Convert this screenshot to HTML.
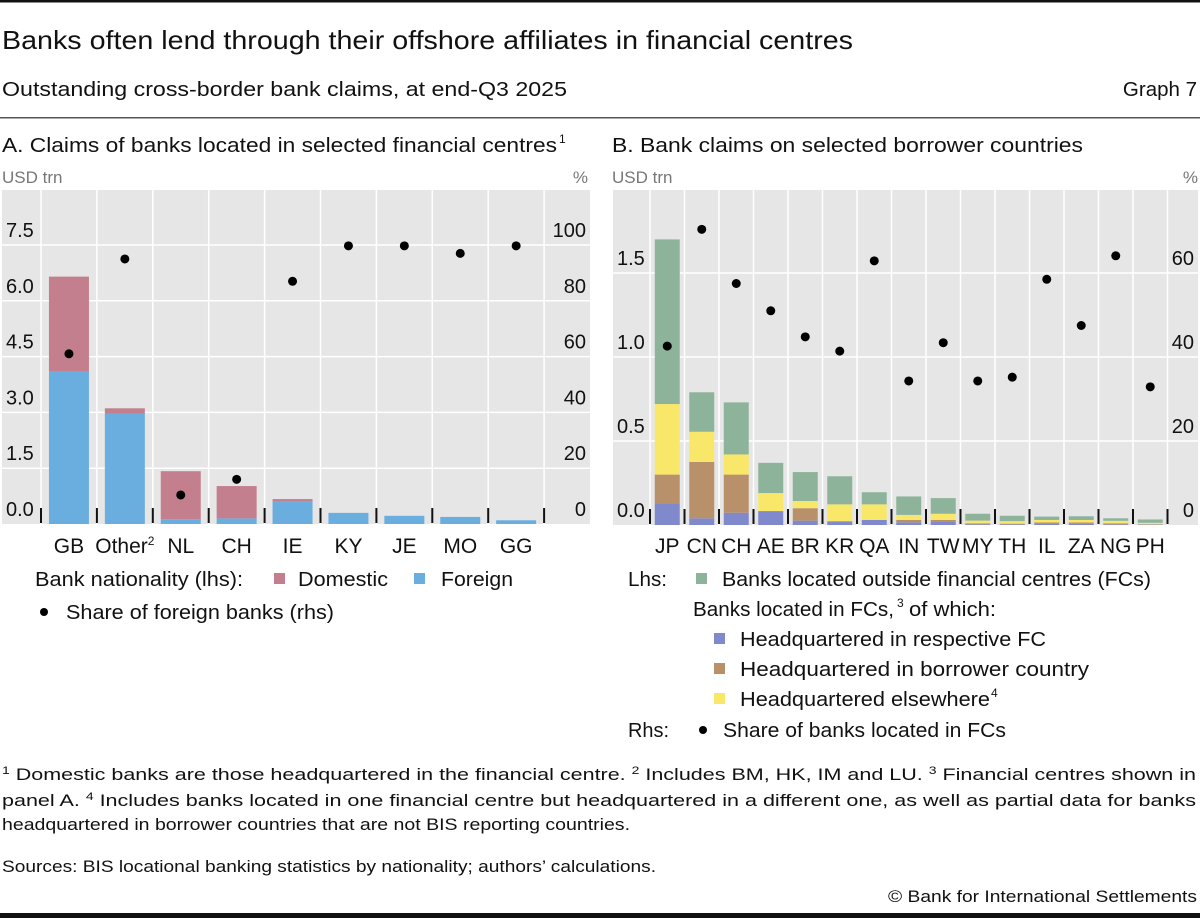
<!DOCTYPE html>
<html><head><meta charset="utf-8"><style>
html,body{margin:0;padding:0;background:#fff}
svg{display:block;font-family:"Liberation Sans",sans-serif}
</style></head><body>
<svg id="root" width="1200" height="918" viewBox="0 0 1200 918">
<rect x="0" y="0" width="1200" height="2.5" fill="#111"/>
<text x="2" y="49" font-size="26" fill="#111" textLength="851" lengthAdjust="spacingAndGlyphs">Banks often lend through their offshore affiliates in financial centres</text>
<text x="2" y="96" font-size="20.5" fill="#111" textLength="565" lengthAdjust="spacingAndGlyphs">Outstanding cross-border bank claims, at end-Q3 2025</text>
<text x="1197" y="96" font-size="20.5" fill="#111" text-anchor="end">Graph 7</text>
<rect x="0" y="117" width="1200" height="1.5" fill="#555"/>
<text x="2" y="152" font-size="20.5" fill="#111" textLength="555" lengthAdjust="spacingAndGlyphs">A. Claims of banks located in selected financial centres</text>
<text x="559" y="143" font-size="12" fill="#111">1</text>
<text x="612" y="152" font-size="20.5" fill="#111" textLength="471" lengthAdjust="spacingAndGlyphs">B. Bank claims on selected borrower countries</text>
<text x="2" y="183" font-size="17" fill="#777">USD trn</text>
<text x="588" y="183" font-size="17" fill="#777" text-anchor="end">%</text>
<text x="612" y="183" font-size="17" fill="#777">USD trn</text>
<text x="1198" y="183" font-size="17" fill="#777" text-anchor="end">%</text>
<g id="panelA"></g>
<g id="panelB"></g>

<g font-size="20" fill="#111">
<text x="35" y="586" textLength="208" lengthAdjust="spacingAndGlyphs">Bank nationality (lhs):</text>
<rect x="274" y="573" width="11" height="11" fill="#c47f8e"/>
<text x="298" y="586" textLength="90" lengthAdjust="spacingAndGlyphs">Domestic</text>
<rect x="414" y="573" width="11" height="11" fill="#6aaee0"/>
<text x="441" y="586" textLength="72" lengthAdjust="spacingAndGlyphs">Foreign</text>
<circle cx="44" cy="612" r="4" fill="#000"/>
<text x="66" y="619" textLength="268" lengthAdjust="spacingAndGlyphs">Share of foreign banks (rhs)</text>
</g>
<g font-size="20" fill="#111">
<text x="628" y="586" textLength="39" lengthAdjust="spacingAndGlyphs">Lhs:</text>
<rect x="696" y="573" width="11" height="11" fill="#8db39b"/>
<text x="722" y="586" textLength="429" lengthAdjust="spacingAndGlyphs">Banks located outside financial centres (FCs)</text>
<text x="693" y="616" textLength="201" lengthAdjust="spacingAndGlyphs">Banks located in FCs,</text>
<text x="897" y="607" font-size="12">3</text>
<text x="909" y="616" textLength="87" lengthAdjust="spacingAndGlyphs">of which:</text>
<rect x="714" y="633" width="11" height="11" fill="#8089cc"/>
<text x="740" y="646" textLength="306" lengthAdjust="spacingAndGlyphs">Headquartered in respective FC</text>
<rect x="714" y="663" width="11" height="11" fill="#b8916b"/>
<text x="740" y="676" textLength="349" lengthAdjust="spacingAndGlyphs">Headquartered in borrower country</text>
<rect x="714" y="693" width="11" height="11" fill="#f9e76a"/>
<text x="740" y="706" textLength="250" lengthAdjust="spacingAndGlyphs">Headquartered elsewhere</text>
<text x="991" y="697" font-size="12">4</text>
<text x="628" y="737" textLength="41" lengthAdjust="spacingAndGlyphs">Rhs:</text>
<circle cx="703" cy="730" r="4" fill="#000"/>
<text x="723" y="737" textLength="283" lengthAdjust="spacingAndGlyphs">Share of banks located in FCs</text>
</g>

<g font-size="17" fill="#111">
<text x="2" y="780" textLength="1194" lengthAdjust="spacingAndGlyphs"><tspan font-size="11" dy="-6">1</tspan><tspan dy="6"> Domestic banks are those headquartered in the financial centre.  </tspan><tspan font-size="11" dy="-6">2</tspan><tspan dy="6"> Includes BM, HK, IM and LU.  </tspan><tspan font-size="11" dy="-6">3</tspan><tspan dy="6"> Financial centres shown in</tspan></text>
<text x="2" y="806" textLength="1194" lengthAdjust="spacingAndGlyphs">panel A.  <tspan font-size="11" dy="-6">4</tspan><tspan dy="6"> Includes banks located in one financial centre but headquartered in a different one, as well as partial data for banks</tspan></text>
<text x="2" y="830" textLength="628" lengthAdjust="spacingAndGlyphs">headquartered in borrower countries that are not BIS reporting countries.</text>
<text x="2" y="872" textLength="654" lengthAdjust="spacingAndGlyphs">Sources: BIS locational banking statistics by nationality; authors’ calculations.</text>
<text x="1197" y="902" text-anchor="end" textLength="309" lengthAdjust="spacingAndGlyphs">© Bank for International Settlements</text>
</g>
<rect x="0" y="913" width="1200" height="5" fill="#111"/>
</svg>
<script>
// Panel A data
const catsA = ["GB","Other","NL","CH","IE","KY","JE","MO","GG"];
const foreignA = [4.09,2.96,0.13,0.15,0.60,0.30,0.22,0.19,0.10];
const domesticA = [2.56,0.15,1.29,0.87,0.07,0,0,0,0];
const shareForeignA = [61,95,10.4,16,87,99.7,99.7,97,99.7];
const lhsTicksA = ["0.0","1.5","3.0","4.5","6.0","7.5"];
const rhsTicksA = ["0","20","40","60","80","100"];
// Panel B data
const catsB = ["JP","CN","CH","AE","BR","KR","QA","IN","TW","MY","TH","IL","ZA","NG","PH"];
const hqFcB = [0.13,0.04,0.073,0.083,0.026,0.018,0.03,0.016,0.018,0.005,0.004,0.01,0.008,0.004,0.002];
const hqBorrowerB = [0.17,0.335,0.227,0,0.074,0.005,0,0.014,0.012,0.005,0.004,0.005,0.007,0.006,0.003];
const hqElsewhereB = [0.42,0.18,0.12,0.107,0.043,0.10,0.093,0.03,0.037,0.016,0.015,0.015,0.015,0.015,0.008];
const outsideFcB = [0.98,0.235,0.31,0.18,0.172,0.167,0.072,0.11,0.093,0.041,0.032,0.02,0.022,0.015,0.02];
const shareFcB = [42.6,70.4,57.5,51,44.8,41.4,62.9,34.3,43.4,34.3,35.2,58.5,47.5,64.1,32.9];
const lhsTicksB = ["0.0","0.5","1.0","1.5"];
const rhsTicksB = ["0","20","40","60"];

const NS="http://www.w3.org/2000/svg";
function mk(parent,tag,attrs){const e=document.createElementNS(NS,tag);for(const k in attrs)e.setAttribute(k,attrs[k]);parent.appendChild(e);return e;}

function drawPanel(g,cfg){
  const {x0,x1,top,bottom,firstSep,sepStep,cats,yLhs,yRhs,lhsTicks,rhsTicks,prefix}=cfg;
  const bg=mk(g,'rect',{x:x0,y:top,width:x1-x0,height:bottom-top,fill:'#e6e6e6'});
  
  
  lhsTicks.forEach((t)=>{const y=yLhs(parseFloat(t));
    if(parseFloat(t)>0){const l=mk(g,'line',{x1:x0,x2:x1,y1:y,y2:y,stroke:'#fff','stroke-width':1.5});
      
      }
    const tx=mk(g,'text',{x:x0+4,y:Math.min(y-8,bottom-7),'font-size':20,fill:'#111'});tx.textContent=t;
    
    });
  rhsTicks.forEach((t)=>{const y=yRhs(parseFloat(t));
    const tx=mk(g,'text',{x:x1-4,y:Math.min(y-8,bottom-7),'font-size':20,fill:'#111','text-anchor':'end'});tx.textContent=t;
    
    });
  for(let i=0;i<=cats.length;i++){const x=firstSep+i*sepStep;
    const l=mk(g,'line',{x1:x,x2:x,y1:top,y2:bottom,stroke:'#fff','stroke-width':1.5});
    
    
    const tk=mk(g,'line',{x1:x,x2:x,y1:bottom-16,y2:bottom-1,stroke:'#111','stroke-width':2});
    
    }
}
function cx(cfg,i){return cfg.firstSep+(i+0.5)*cfg.sepStep;}

// Panel A
const gA=document.getElementById('panelA');
const cfgA={x0:2,x1:590,top:190,bottom:524,firstSep:41,sepStep:55.9,cats:catsA,barW:40,prefix:'panel-a',
  yLhs:v=>524-v*37.2,yRhs:v=>524-v*2.79,lhsTicks:lhsTicksA,rhsTicks:rhsTicksA};
drawPanel(gA,cfgA);
catsA.forEach((c,i)=>{const x=cx(cfgA,i)-cfgA.barW/2;
  const yf=cfgA.yLhs(foreignA[i]);
  const b1=mk(gA,'rect',{x:x,y:yf,width:cfgA.barW,height:524-yf,fill:'#6aaee0'});
  
  
  if(domesticA[i]>0){const yd=cfgA.yLhs(foreignA[i]+domesticA[i]);
    const b2=mk(gA,'rect',{x:x,y:yd,width:cfgA.barW,height:yf-yd,fill:'#c47f8e'});
    
    }
  const d=mk(gA,'circle',{cx:cx(cfgA,i),cy:cfgA.yRhs(shareForeignA[i]),r:4.5,fill:'#000'});
  
  
  const t=mk(gA,'text',{x:cx(cfgA,i),y:553,'font-size':21,fill:'#111','text-anchor':'middle'});
  t.textContent=c;
  if(c==='Other'){const s=mk(t,'tspan',{'font-size':12,dy:-8});s.textContent='2';}
  
  
});

// Panel B
const gB=document.getElementById('panelB');
const cfgB={x0:613,x1:1198,top:190,bottom:525,firstSep:650,sepStep:34.5,cats:catsB,barW:25,prefix:'panel-b',
  yLhs:v=>525-v*168,yRhs:v=>525-v*4.2,lhsTicks:lhsTicksB,rhsTicks:rhsTicksB};
drawPanel(gB,cfgB);
const seriesB=[[hqFcB,'#8089cc','hq-fc'],[hqBorrowerB,'#b8916b','hq-borrower'],[hqElsewhereB,'#f9e76a','hq-elsewhere'],[outsideFcB,'#8db39b','outside-fc']];
catsB.forEach((c,i)=>{const x=cx(cfgB,i)-cfgB.barW/2;let cum=0;
  seriesB.forEach(s=>{const v=s[0][i];if(v<=0)return;
    const y1=cfgB.yLhs(cum),y2=cfgB.yLhs(cum+v);cum+=v;
    const r=mk(gB,'rect',{x:x,y:y2,width:cfgB.barW,height:y1-y2,fill:s[1]});
    
    });
  const d=mk(gB,'circle',{cx:cx(cfgB,i),cy:cfgB.yRhs(shareFcB[i]),r:4.5,fill:'#000'});
  
  
  const t=mk(gB,'text',{x:cx(cfgB,i),y:553,'font-size':21,fill:'#111','text-anchor':'middle'});
  t.textContent=c;
  
  
});
</script>
</body></html>
